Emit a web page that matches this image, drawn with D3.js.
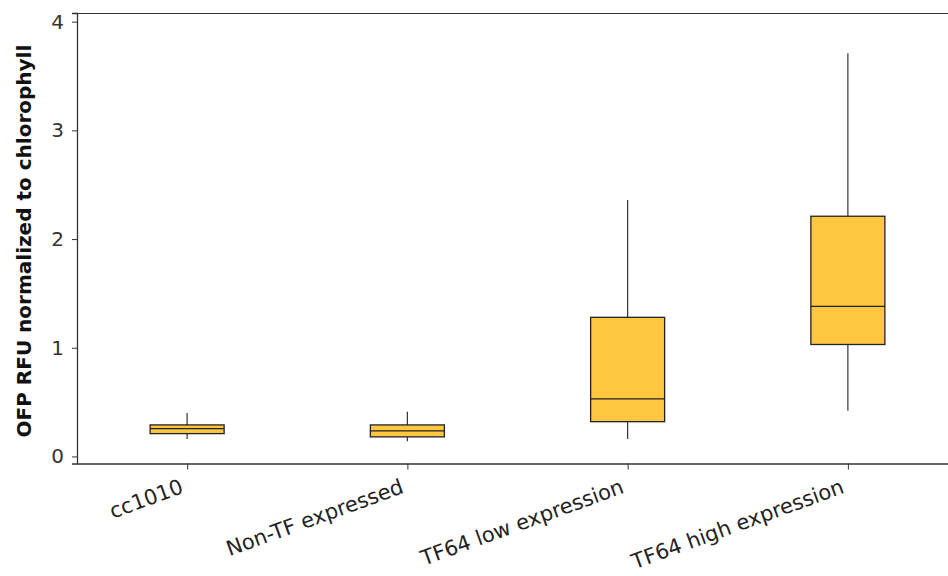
<!DOCTYPE html>
<html>
<head>
<meta charset="utf-8">
<script src="https://cdn.jsdelivr.net/npm/d3@7"></script>
<style>
  body { margin: 0; background: #fff; }
  svg { display: block; }
</style>
</head>
<body>
<div id="chart"></div>
<script>
const categories = ["cc1010", "Non-TF expressed", "TF64 low expression", "TF64 high expression"];
const whiskerLow = [0.16, 0.14, 0.16, 0.42];
const q1 = [0.21, 0.18, 0.32, 1.03];
const median = [0.255, 0.235, 0.53, 1.38];
const q3 = [0.29, 0.29, 1.28, 2.21];
const whiskerHigh = [0.40, 0.41, 2.36, 3.71];
const yTicks = [0, 1, 2, 3, 4];

const width = 948, height = 576;
const margin = { left: 77, top: 13, right: -10, bottom: 112 };

const svg = d3.select("#chart").append("svg")
  .attr("width", width)
  .attr("height", height);

const x = d3.scalePoint()
  .domain(categories)
  .range([margin.left, width - margin.right])
  .padding(0.5);

const y = d3.scaleLinear()
  .domain([-0.065, 4.08])
  .range([height - margin.bottom - 0.5, margin.top]);

const boxW = 74;
const data = categories.map((c, i) => ({
  c, lo: whiskerLow[i], q1: q1[i], med: median[i], q3: q3[i], hi: whiskerHigh[i]
}));

// frame
svg.append("line")
  .attr("x1", margin.left).attr("x2", width)
  .attr("y1", margin.top + 0.5).attr("y2", margin.top + 0.5)
  .attr("stroke", "#333").attr("stroke-width", 1.2);

// y axis
const yAxis = svg.append("g")
  .attr("transform", `translate(${margin.left},0)`)
  .call(d3.axisLeft(y).tickValues(yTicks).tickSize(5).tickPadding(8).tickFormat(d3.format("d")));
yAxis.select(".domain").attr("stroke", "#333").attr("stroke-width", 1.3);
yAxis.selectAll(".tick line").attr("stroke", "#333");
yAxis.selectAll("text")
  .attr("font-family", "DejaVu Sans, Verdana, sans-serif")
  .attr("font-size", 20).attr("fill", "#333");

// x axis
const xAxis = svg.append("g")
  .attr("transform", `translate(0,${y.range()[0]})`)
  .call(d3.axisBottom(x).tickSize(6).tickSizeOuter(0));
xAxis.select(".domain").attr("stroke", "#333").attr("stroke-width", 1.3);
xAxis.selectAll(".tick line").attr("stroke", "#333");
xAxis.selectAll("text")
  .attr("font-family", "DejaVu Sans, Verdana, sans-serif")
  .attr("font-size", 21).attr("fill", "#222")
  .attr("text-anchor", "end")
  .attr("dy", null)
  .attr("y", 0)
  .attr("transform", "translate(-3,29) rotate(-20)");

// y title
svg.append("text")
  .attr("transform", `translate(31,${(y(0) + y(4)) / 2 + 2}) rotate(-90)`)
  .attr("text-anchor", "middle")
  .attr("font-family", "DejaVu Sans, Verdana, sans-serif")
  .attr("font-weight", "bold")
  .attr("font-size", 20)
  .attr("fill", "#111")
  .text("OFP RFU normalized to chlorophyll");

const g = svg.append("g");

// whiskers
g.selectAll(".whisker").data(data).join("line")
  .attr("class", "whisker")
  .attr("x1", d => x(d.c)).attr("x2", d => x(d.c))
  .attr("y1", d => y(d.lo)).attr("y2", d => y(d.hi))
  .attr("stroke", "#333").attr("stroke-width", 1.2);

// boxes
g.selectAll(".box").data(data).join("rect")
  .attr("class", "box")
  .attr("x", d => x(d.c) - boxW / 2)
  .attr("width", boxW)
  .attr("y", d => y(d.q3))
  .attr("height", d => y(d.q1) - y(d.q3))
  .attr("fill", "#ffc740")
  .attr("stroke", "#222").attr("stroke-width", 1.3);

// medians
g.selectAll(".median").data(data).join("line")
  .attr("class", "median")
  .attr("x1", d => x(d.c) - boxW / 2).attr("x2", d => x(d.c) + boxW / 2)
  .attr("y1", d => y(d.med)).attr("y2", d => y(d.med))
  .attr("stroke", "#222").attr("stroke-width", 1.3);
</script>
</body>
</html>
